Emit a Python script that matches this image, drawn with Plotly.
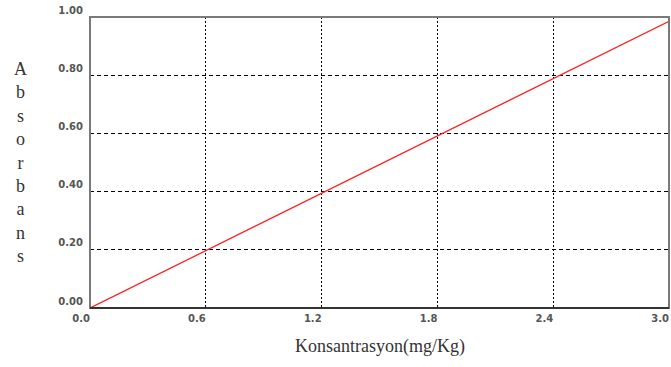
import plotly.graph_objects as go

konsantrasyon = [0.0, 3.0]
absorbans = [0.0, 0.985]
x_ticks = [0.0, 0.6, 1.2, 1.8, 2.4, 3.0]
x_tick_labels = ["0.0", "0.6", "1.2", "1.8", "2.4", "3.0"]
y_ticks = [0.0, 0.2, 0.4, 0.6, 0.8, 1.0]
y_tick_labels = ["0.00", "0.20", "0.40", "0.60", "0.80", "1.00"]

fig = go.Figure()
fig.add_trace(go.Scatter(x=konsantrasyon, y=absorbans, mode="lines",
                         line=dict(color="#ff2020", width=1.3), showlegend=False))

tickfont = dict(family="DejaVu Sans", size=10, color="#555555", weight="bold")
fig.update_xaxes(range=[0, 3.0], tickvals=x_ticks, ticktext=x_tick_labels,
                 showgrid=True, gridcolor="#000000", griddash="2px,2px", gridwidth=1.2,
                 zeroline=False, showline=False, ticks="", tickfont=tickfont,
                 ticklabelposition="outside left", ticklabelstandoff=3)
fig.update_yaxes(range=[0, 1.0], tickvals=y_ticks, ticktext=y_tick_labels,
                 showgrid=True, gridcolor="#000000", griddash="4px,3px", gridwidth=1.2,
                 zeroline=False, showline=False, ticks="", tickfont=tickfont,
                 ticklabelposition="outside top", ticklabelstandoff=6)

fig.add_shape(type="rect", xref="paper", yref="paper", x0=0, y0=0, x1=1, y1=1,
              line=dict(color="#7a7a7a", width=2), layer="above")
fig.add_shape(type="line", xref="paper", yref="paper", x0=0, y0=0, x1=1, y1=0,
              line=dict(color="#333333", width=2), layer="above")

fig.add_annotation(text="A<br>b<br>s<br>o<br>r<br>b<br>a<br>n<br>s", xref="paper", yref="paper",
                   x=-0.12, y=0.5, showarrow=False, xanchor="center", yanchor="middle",
                   font=dict(family="Liberation Serif", size=18, color="#333333"))
fig.add_annotation(text="Konsantrasyon(mg/Kg)", xref="paper", yref="paper",
                   x=0.5, y=-0.09, showarrow=False, xanchor="center", yanchor="top",
                   font=dict(family="Liberation Serif", size=18, color="#333333"))

fig.update_layout(width=671, height=367, margin=dict(l=90, r=2, t=17, b=59),
                  plot_bgcolor="white", paper_bgcolor="white")
fig.write_html("out.html")
